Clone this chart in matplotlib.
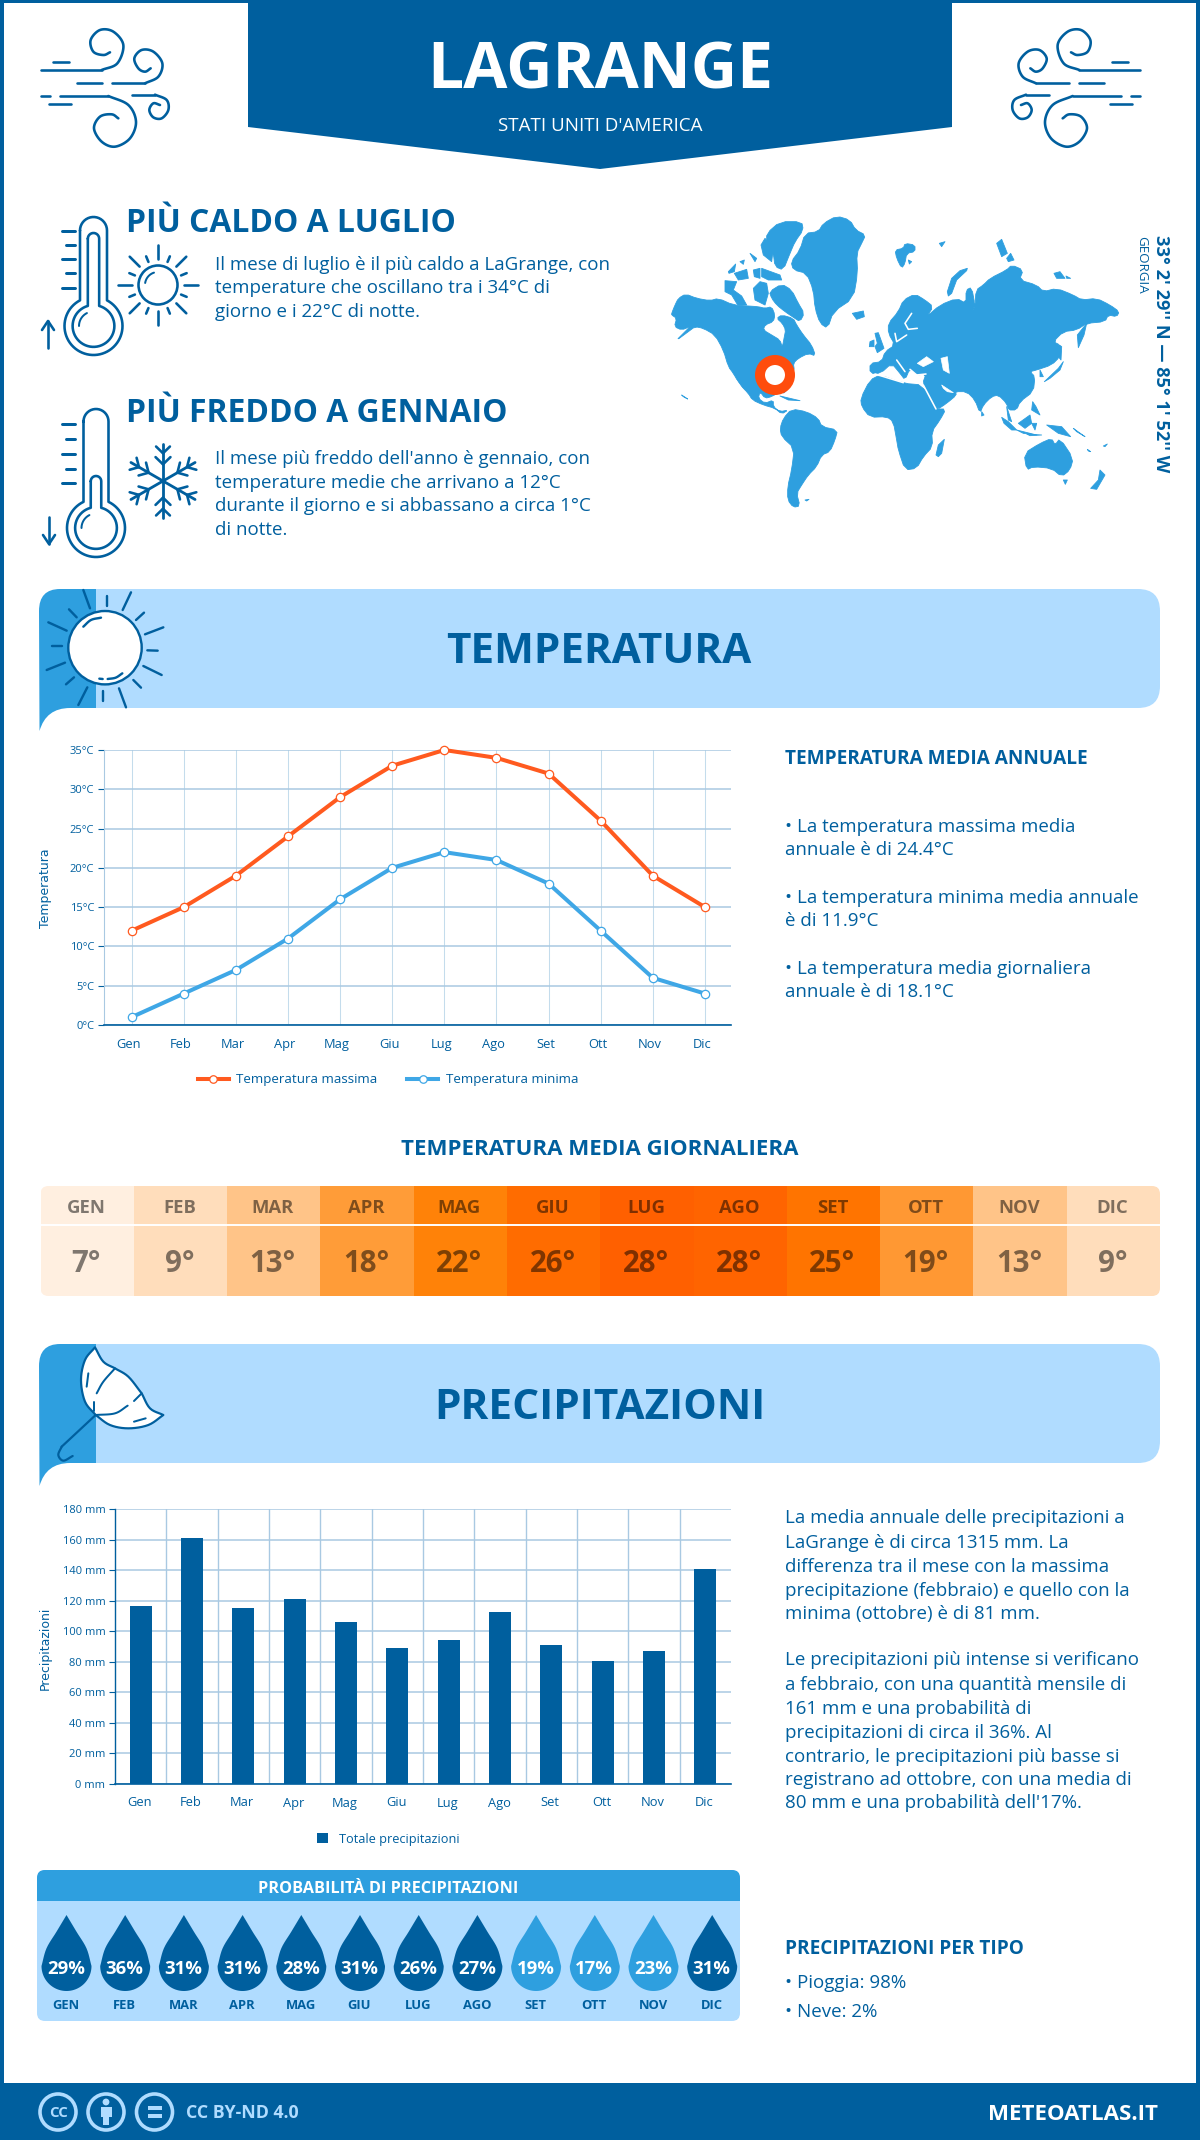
import numpy as np
import matplotlib
matplotlib.use("Agg")
import matplotlib.pyplot as plt
from matplotlib.patches import Polygon, Circle, Rectangle, FancyBboxPatch, PathPatch
from matplotlib.path import Path
from matplotlib.transforms import ScaledTranslation

plt.rcParams['font.family'] = ['Open Sans', 'DejaVu Sans']

# ---------- data ----------
MONTHS = ["Gen", "Feb", "Mar", "Apr", "Mag", "Giu", "Lug", "Ago", "Set", "Ott", "Nov", "Dic"]
TEMP_MAX = [12, 15, 19, 24, 29, 33, 35, 34, 32, 26, 19, 15]
TEMP_MIN = [1, 4, 7, 11, 16, 20, 22, 21, 18, 12, 6, 4]
TEMP_TICKS = [0, 5, 10, 15, 20, 25, 30, 35]
TEMP_DAILY = [7, 9, 13, 18, 22, 26, 28, 28, 25, 19, 13, 9]
TEMP_COLORS = ["#ffefe0", "#ffddbb", "#ffc488", "#ff9c38", "#ff8208", "#ff6c00",
               "#ff6000", "#ff6400", "#ff7400", "#ff9833", "#ffc488", "#ffddbb"]
PRECIP = [116.7, 161, 115.4, 121.3, 106.3, 89.2, 94.5, 112.8, 91.2, 80.7, 87.3, 141]
PRECIP_TICKS = [0, 20, 40, 60, 80, 100, 120, 140, 160, 180]
PROB = [29, 36, 31, 31, 28, 31, 26, 27, 19, 17, 23, 31]

DARK = "#005f9e"
MID = "#2e9fdf"
LIGHT = "#b0dcff"
ORANGE = "#ff4d0d"

W, H = 1200, 2140
fig = plt.figure(figsize=(W / 100, H / 100), dpi=100, facecolor="white")
P = fig.add_axes([0, 0, 1, 1])
P.set_xlim(0, W)
P.set_ylim(H, 0)
P.axis("off")


def T(x, y, s, px, weight="normal", color=DARK, ha="left", alpha=None):
    """y = optical centre of caps"""
    return P.text(x, y + 0.357 * px, s, fontsize=px * 0.72, fontweight=weight, color=color, ha=ha,
                  va="baseline", alpha=alpha, zorder=6)


def smooth(pts, n=14):
    pts = np.array(pts, float)
    p = np.vstack([2 * pts[0] - pts[1], pts, 2 * pts[-1] - pts[-2]])
    out = []
    for i in range(1, len(p) - 2):
        for t in np.linspace(0, 1, n, endpoint=False):
            a, b, c, d = p[i - 1], p[i], p[i + 1], p[i + 2]
            out.append(0.5 * (2 * b + (c - a) * t + (2 * a - 5 * b + 4 * c - d) * t ** 2 + (3 * b - a - 3 * c + d) * t ** 3))
    out.append(pts[-1])
    return np.array(out)


def stroke(pts, lw=2.6, color=DARK, z=5, cap="round"):
    pts = np.array(pts, float)
    P.plot(pts[:, 0], pts[:, 1], color=color, lw=lw * 0.72, solid_capstyle=cap, solid_joinstyle="round", zorder=z)


# ---------- frame / header ----------
P.add_patch(Rectangle((0, 0), 4, H, color=DARK, lw=0))
P.add_patch(Rectangle((W - 4, 0), 4, H, color=DARK, lw=0))
P.add_patch(Rectangle((0, 0), W, 3, color=DARK, lw=0))
P.add_patch(Polygon([(248, 0), (952, 0), (952, 127), (600, 169), (248, 127)], color=DARK, lw=0))
T(600, 66, "LAGRANGE", 64, "bold", "white", "center")
T(600, 124, "STATI UNITI D'AMERICA", 18.8, "normal", "white", "center")


def wind(fx):
    S = lambda l: [(fx(30 + x / 3), 20 + y / 3) for x, y in l]
    def line_curve(straight_to, rest):
        stroke(S(straight_to))
        stroke(smooth(S([straight_to[-1]] + rest)))
    line_curve([(32, 150), (215, 150)], [(262, 130), (280, 75), (250, 35), (210, 30), (182, 60), (190, 95), (220, 105), (240, 97)])
    stroke(S([(70, 125), (118, 125)]))
    stroke(S([(140, 190), (215, 190)]))
    line_curve([(247, 190), (345, 190)], [(385, 170), (397, 130), (370, 95), (335, 90), (313, 115), (325, 145), (345, 155), (362, 145)])
    stroke(S([(32, 228), (60, 228)]))
    line_curve([(90, 228), (235, 228)], [(295, 255), (318, 305), (300, 355), (255, 380), (215, 365), (192, 325), (210, 290), (245, 283), (265, 295)])
    line_curve([(307, 224), (375, 224)], [(410, 240), (415, 270), (395, 295), (370, 292), (358, 270), (370, 250), (390, 255)])
    stroke(S([(57, 253), (122, 253)]))


wind(lambda x: x)
wind(lambda x: 1181 - x)


def thermo(xl, xr, top, cx, cy, r, mercury_top, ticks, arrow):
    hw = (xr - xl) / 2
    a = np.arcsin(hw / r)
    ang = np.linspace(a, 2 * np.pi - a, 60)
    bulb = np.c_[cx + r * np.sin(ang), cy - r * np.cos(ang)]
    t = np.linspace(0, np.pi, 20)
    out = np.vstack([np.c_[cx - hw * np.cos(t), top + hw - hw * np.sin(t)], bulb, [(cx - hw, top + hw)]])
    stroke(out)
    hw2 = hw * 0.42
    r2 = r * 0.72
    a2 = np.arcsin(hw2 / r2)
    ang2 = np.linspace(a2, 2 * np.pi - a2, 50)
    bulb2 = np.c_[cx + r2 * np.sin(ang2), cy - r2 * np.cos(ang2)]
    t2 = np.linspace(0, np.pi, 14)
    inn = np.vstack([np.c_[cx - hw2 * np.cos(t2), mercury_top + hw2 - hw2 * np.sin(t2)], bulb2, [(cx - hw2, mercury_top + hw2)]])
    stroke(inn)
    ah = np.linspace(np.pi * 1.0, np.pi * 1.35, 12)
    stroke(np.c_[cx + r * 0.5 * np.cos(ah), cy + r * 0.5 * np.sin(ah)], lw=2)
    for i, ty in enumerate(ticks):
        stroke([(62 if i % 2 == 0 else 66, ty), (75, ty)], lw=3)
    stroke([(arrow[0], arrow[1]), (arrow[0], arrow[2])])
    d = np.sign(arrow[2] - arrow[1])
    stroke([(arrow[0] - 6, arrow[2] - d * 9), (arrow[0], arrow[2]), (arrow[0] + 6, arrow[2] - d * 9)])


thermo(80, 107, 217, 93.5, 326, 29, 233, [231, 245, 259, 273, 288], (48, 348, 321))
thermo(84, 109, 409, 96, 528, 29, 476, [424, 439, 454, 469, 483], (49, 517, 544))


def rays(cx, cy, r1, r2, r1b, r2b, n=16, lw=2.6):
    for i in range(n):
        a = 2 * np.pi * i / n
        a1, a2 = (r1, r2) if i % 2 == 0 else (r1b, r2b)
        stroke([(cx + a1 * np.cos(a), cy + a1 * np.sin(a)), (cx + a2 * np.cos(a), cy + a2 * np.sin(a))], lw=lw)


P.add_patch(Circle((158, 285), 19.5, fc="white", ec=DARK, lw=2.6 * 0.72, zorder=5))
ah = np.linspace(np.pi * 1.05, np.pi * 1.4, 12)
stroke(np.c_[158 + 13 * np.cos(ah), 285 + 13 * np.sin(ah)], lw=2)
rays(158, 285, 26, 40, 25, 31)


def flake(cx, cy, R):
    for k in range(6):
        a = np.pi / 2 + k * np.pi / 3
        u = np.array([np.cos(a), np.sin(a)])
        v = np.array([-u[1], u[0]])
        c = np.array([cx, cy])
        stroke([c, c + R * u], lw=2.8)
        for d, l in [(0.45, 0.28), (0.75, 0.26)]:
            base = c + R * d * u
            for s in (-1, 1):
                stroke([base, base + R * l * (0.7 * u + s * 0.72 * v)], lw=2.6)


flake(163, 481, 37)

T(126, 221, "PIÙ CALDO A LUGLIO", 31.9, "bold")
for y, s in zip([263, 286, 310], ["Il mese di luglio è il più caldo a LaGrange, con",
                                  "temperature che oscillano tra i 34°C di",
                                  "giorno e i 22°C di notte."]):
    T(215, y, s, 18.8)
T(126, 411, "PIÙ FREDDO A GENNAIO", 31.9, "bold")
for y, s in zip([457, 481, 504, 528], ["Il mese più freddo dell'anno è gennaio, con",
                                       "temperature medie che arrivano a 12°C",
                                       "durante il giorno e si abbassano a circa 1°C",
                                       "di notte."]):
    T(215, y, s, 18.8)

# ---------- world map (decorative outline shapes, traced in crop pixels) ----------
LAND_WEST = [
    # North America
    [(20, 310), (30, 285), (40, 265), (62, 252), (95, 265), (135, 272), (160, 265), (205, 285), (250, 288), (280, 290), (300, 295),
     (320, 290), (330, 315), (325, 335), (300, 345), (295, 360), (320, 375), (345, 390), (352, 412), (358, 380), (362, 360),
     (352, 340), (335, 325), (350, 315), (385, 325), (395, 345), (415, 375), (440, 405), (452, 438), (430, 430), (400, 445),
     (385, 460), (388, 480), (375, 520), (360, 550), (345, 545), (320, 560), (300, 565), (285, 545), (280, 565), (300, 580),
     (325, 570), (325, 590), (345, 605), (370, 600), (350, 612), (330, 595), (295, 585), (262, 570), (250, 550), (225, 525),
     (205, 490), (190, 470), (175, 420), (150, 375), (115, 355), (90, 350), (70, 365), (32, 393), (60, 365), (75, 350),
     (50, 360), (28, 350), (35, 325), (20, 315)],
    # arctic archipelago
    [(313, 245), (350, 222), (380, 240), (400, 280), (418, 310), (405, 335), (385, 322), (360, 305), (335, 285), (320, 265)],
    [(265, 235), (285, 215), (305, 220), (310, 250), (300, 285), (270, 270)],
    [(180, 212), (215, 215), (205, 240), (230, 258), (245, 285), (218, 285), (200, 255), (180, 245)],
    [(190, 185), (212, 162), (208, 185), (192, 190)], [(208, 190), (245, 178), (250, 205), (220, 210)],
    [(265, 180), (285, 175), (285, 205), (268, 200)], [(290, 175), (345, 195), (350, 210), (310, 210), (290, 200)],
    [(255, 130), (275, 145), (270, 155)], [(225, 155), (238, 150), (235, 163)],
    [(305, 70), (345, 35), (410, 35), (415, 60), (390, 95), (375, 130), (355, 180), (330, 170), (325, 130), (305, 100)],
    [(288, 105), (300, 85), (325, 115), (320, 155), (295, 135)],
    # Greenland, Iceland
    [(378, 155), (405, 120), (420, 70), (460, 65), (475, 40), (515, 18), (555, 30), (572, 60), (602, 75), (590, 100), (575, 130),
     (578, 190), (565, 265), (505, 305), (488, 355), (465, 340), (450, 295), (445, 240), (425, 190), (385, 180)],
    [(562, 310), (595, 303), (598, 320), (575, 328)],
    # Cuba etc.
    [(345, 558), (375, 565), (405, 572), (370, 570)], [(50, 555), (68, 567), (55, 560)],
    # South America
    [(345, 655), (355, 625), (380, 597), (425, 605), (460, 625), (470, 650), (518, 660), (510, 690), (495, 725), (470, 735),
     (455, 770), (430, 795), (410, 825), (395, 850), (405, 888), (385, 892), (368, 870), (368, 830), (380, 780), (388, 715), (350, 680)],
    [(420, 870), (432, 868), (425, 873)],
]
LAND_EAST = [
    [(105, 120), (130, 115), (135, 100), (165, 105), (165, 125), (140, 130), (135, 160), (125, 175), (110, 145)],
    [(145, 150), (155, 155), (148, 162)], [(238, 100), (255, 95), (245, 110)],
    [(262, 245), (275, 205), (300, 182), (322, 175), (320, 182), (290, 210), (275, 250), (265, 258)],
    [(410, 100), (425, 88), (442, 130), (425, 140)], [(440, 145), (452, 130), (462, 150), (445, 155)],
    [(582, 190), (600, 185), (615, 205), (590, 205)], [(618, 198), (632, 205), (620, 205)],
    # UK & Ireland
    [(45, 370), (55, 368), (72, 415), (52, 428), (45, 410), (52, 400)], [(30, 395), (42, 390), (42, 410), (28, 410)],
    # Eurasia
    [(30, 460), (65, 455), (75, 425), (105, 405), (85, 370), (85, 340), (115, 305), (130, 270), (165, 252), (195, 270), (220, 290),
     (200, 320), (240, 285), (290, 265), (318, 280), (318, 240), (335, 232), (345, 285), (335, 305), (345, 290), (348, 240), (370, 225),
     (390, 205), (440, 180), (455, 165), (490, 180), (478, 210), (530, 225), (550, 245), (590, 235), (640, 255), (665, 270), (710, 265),
     (750, 285), (778, 305), (770, 320), (745, 315), (735, 335), (680, 340), (650, 360), (610, 365), (580, 395), (600, 405), (600, 440),
     (575, 465), (530, 480), (510, 485), (525, 500), (520, 545), (480, 575), (470, 600), (445, 600), (440, 580), (415, 555), (395, 560),
     (370, 585), (360, 610), (345, 570), (320, 545), (285, 545), (290, 555), (260, 580), (230, 600), (205, 550), (188, 520), (198, 492),
     (170, 495), (150, 475), (135, 510), (120, 490), (95, 460), (62, 490), (30, 490)],
    # Africa
    [(2, 565), (30, 510), (60, 495), (130, 520), (190, 525), (228, 597), (258, 597), (240, 630), (215, 665), (218, 710), (190, 740),
     (170, 775), (135, 780), (115, 720), (110, 690), (100, 635), (80, 620), (30, 622), (5, 590)],
    [(228, 735), (235, 705), (253, 688), (245, 730), (235, 740)],
    [(365, 605), (372, 615), (365, 618)],
    [(652, 375), (680, 340), (672, 375), (655, 413)],
    [(553, 515), (595, 475), (610, 455), (600, 480), (570, 505)], [(598, 405), (605, 410), (603, 450), (595, 440)],
    [(540, 480), (550, 500), (540, 500)],
    [(425, 622), (445, 635), (470, 660), (455, 660), (432, 640)], [(470, 660), (530, 675), (490, 670)],
    [(475, 640), (510, 615), (515, 640), (495, 655)], [(515, 640), (530, 640), (525, 660)],
    [(518, 575), (528, 590), (540, 615), (515, 600)], [(560, 645), (605, 650), (632, 680), (595, 670)],
    [(440, 590), (455, 635), (445, 630)], [(500, 672), (545, 675), (510, 677)],
    [(640, 655), (675, 680), (650, 665)], [(682, 718), (692, 725), (685, 723)], [(730, 708), (742, 702), (735, 710)],
    # Oceania
    [(492, 730), (540, 700), (575, 685), (585, 705), (600, 685), (640, 745), (630, 780), (605, 800), (575, 775), (520, 770), (500, 780)],
    [(610, 810), (622, 810), (616, 823)], [(692, 835), (715, 810), (720, 780), (735, 795), (710, 838)],
]
SEA_EAST = [
    [(172, 460), (200, 440), (220, 455), (190, 470)],
    [(243, 445), (262, 440), (268, 490), (250, 480)],
    [(245, 525), (280, 548), (262, 545), (250, 535)],
]
SEA_LINES_EAST = [
    [(155, 310), (135, 340), (145, 358), (172, 355)], [(140, 375), (110, 395), (105, 370)],
    [(110, 450), (135, 485)], [(190, 525), (228, 597)], [(45, 492), (130, 518)], [(150, 478), (170, 495), (198, 492)],
]
SEA_LINES_WEST = [[(213, 512), (240, 550)]]
west = lambda l: [(665 + x / 3, 210 + y / 3) for x, y in l]
east = lambda l: [(860 + x / 3, 210 + y / 3) for x, y in l]


def soften(pts):
    """One corner-cutting pass so that traced coasts lose their sharp corners."""
    pts = np.array(pts, float)
    if len(pts) < 9:
        return pts
    nxt = np.roll(pts, -1, axis=0)
    q = 0.75 * pts + 0.25 * nxt
    r = 0.25 * pts + 0.75 * nxt
    return np.column_stack([q, r]).reshape(-1, 2)


for poly in LAND_WEST:
    P.add_patch(Polygon(soften(west(poly)), closed=True, fc=MID, ec=MID, lw=0.6, zorder=2, joinstyle="round"))
for poly in LAND_EAST:
    P.add_patch(Polygon(soften(east(poly)), closed=True, fc=MID, ec=MID, lw=0.6, zorder=2, joinstyle="round"))
for poly in SEA_EAST:
    P.add_patch(Polygon(east(poly), closed=True, fc="white", ec="white", lw=0.5, zorder=3, joinstyle="round"))
for l in SEA_LINES_EAST:
    stroke(east(l), lw=1.6, color="white", z=3)
for l in SEA_LINES_WEST:
    stroke(west(l), lw=1.6, color="white", z=3)
P.add_patch(Circle((775, 375), 15, fc="white", ec=ORANGE, lw=10 * 0.72, zorder=4))
P.text(1161.5, 354, "33° 2' 29'' N — 85° 1' 52'' W", fontsize=18.2 * 0.72, fontweight="bold", color=DARK,
       ha="center", va="center", rotation=-90, zorder=6)
P.text(1142, 264.5, "GEORGIA", fontsize=13.4 * 0.72, color=DARK, ha="center", va="center", rotation=-90, zorder=6)


# ---------- section banners ----------
def banner(y0, y1, tail):
    P.add_patch(FancyBboxPatch((70, y0), 1090, y1 - y0, boxstyle="round,pad=0,rounding_size=22", fc=LIGHT, ec="none", zorder=1))
    v = [(96, y0), (60, y0), (39, y0), (39, y0 + 22), (39.5, tail), (46, y1), (70, y1), (96, y1), (96, y0)]
    c = [Path.MOVETO, Path.LINETO, Path.CURVE3, Path.CURVE3, Path.LINETO, Path.CURVE3, Path.CURVE3, Path.LINETO, Path.CLOSEPOLY]
    P.add_patch(PathPatch(Path(v, c), fc=MID, ec="none", zorder=1.5))


banner(589, 708, 731)
T(599, 648, "TEMPERATURA", 42.3, "bold", ha="center")
banner(1344, 1463, 1486)
T(600, 1404, "PRECIPITAZIONI", 42.4, "bold", ha="center")

# banner sun
SX = lambda l: [(35 + x / 3, 585 + y / 3) for x, y in l]
P.add_patch(Circle((105, 647.7), 36.7, fc="white", ec=DARK, lw=2.4 * 0.72, zorder=5))
stroke(smooth(SX([(145, 125), (168, 105), (198, 98)])), lw=2.4)
stroke(smooth(SX([(218, 282), (242, 278), (262, 265)])), lw=2.4)
stroke(SX([(193, 281), (203, 282)]), lw=2.4)
for seg in [[(145, 15), (165, 70)], [(215, 32), (215, 62)], [(288, 22), (263, 75)], [(327, 83), (303, 105)], [(385, 127), (330, 148)],
            [(368, 197), (337, 196)], [(380, 270), (325, 243)], [(318, 308), (295, 285)], [(273, 367), (252, 310)], [(203, 349), (203, 318)],
            [(130, 360), (157, 307)], [(93, 298), (117, 277)], [(35, 255), (90, 233)], [(50, 184), (82, 184)], [(40, 112), (95, 137)], [(102, 73), (125, 97)]]:
    stroke(SX(seg), lw=2.4)

# umbrella
U = lambda l: [(35 + x / 3, 1340 + y / 3) for x, y in l]
edge = np.vstack([smooth(U([(180, 22), (205, 65), (240, 85)]), 6), smooth(U([(240, 85), (280, 110), (320, 160)]), 6),
                  smooth(U([(320, 160), (345, 205), (385, 225)]), 6),
                  smooth(U([(385, 225), (340, 255), (280, 265), (225, 255), (182, 225)]), 6),
                  smooth(U([(182, 225), (150, 185), (138, 120), (150, 60), (180, 22)]), 6)])
P.add_patch(Polygon(edge, closed=True, fc="white", ec=DARK, lw=2.2 * 0.72, zorder=5, joinstyle="round"))
stroke(smooth(U([(240, 85), (205, 125), (185, 160)])), lw=2)
stroke(U([(178, 185), (178, 212)]), lw=2)
stroke(U([(320, 160), (297, 183)]), lw=2)
stroke(smooth(U([(278, 197), (240, 220), (182, 225)])), lw=2)
stroke(U([(160, 100), (155, 140)]), lw=2)
stroke(U([(297, 245), (332, 235)]), lw=2)
stroke(U([(182, 225), (80, 320)]), lw=2.2)
stroke(smooth(U([(80, 320), (70, 345), (85, 362), (113, 348)])), lw=2.2)


# ---------- temperature chart ----------
def pxaxes(x0, y0, x1, y1):
    ax = fig.add_axes([x0 / W, 1 - y1 / H, (x1 - x0) / W, (y1 - y0) / H])
    ax.patch.set_alpha(0)
    return ax


def shift_labels(ax, dx):
    off = ScaledTranslation(dx / 100, 0, fig.dpi_scale_trans)
    for lab in ax.get_xticklabels():
        lab.set_transform(lab.get_transform() + off)


ax = pxaxes(104, 750, 731, 1025)
x = np.arange(12)
ax.plot(x, TEMP_MAX, color="#ff5a1f", lw=2.9, marker="o", ms=6, mfc="white", mec="#ff5a1f", mew=0.9, label="Temperatura massima", zorder=4, clip_on=False)
ax.plot(x, TEMP_MIN, color="#3fa7e6", lw=2.9, marker="o", ms=6, mfc="white", mec="#3fa7e6", mew=0.9, label="Temperatura minima", zorder=4, clip_on=False)
ax.set_xlim(-0.53, 11.5)
ax.set_ylim(0, 35)
ax.set_yticks(TEMP_TICKS, [f"{v}°C" for v in TEMP_TICKS])
ax.set_xticks(x, MONTHS)
ax.grid(axis="y", color="#a9c9e2", lw=1.1)
ax.grid(axis="x", color="#c4dcec", lw=0.75)
ax.set_axisbelow(True)
for s in ("top", "right"):
    ax.spines[s].set_visible(False)
ax.spines["left"].set_color("#a9c9e2")
ax.spines["left"].set_linewidth(0.8)
ax.spines["bottom"].set_color(DARK)
ax.spines["bottom"].set_linewidth(1.2)
ax.tick_params(axis="y", length=4, width=0.8, color=DARK, labelsize=8, labelcolor=DARK, pad=3)
ax.tick_params(axis="x", length=0, labelsize=9.3, labelcolor=DARK, pad=9)
shift_labels(ax, -3)
P.text(46, 888, "Temperatura", rotation=90, ha="center", va="center", fontsize=9, color=DARK, family="DejaVu Sans", zorder=6)
ax.legend(loc="center", bbox_to_anchor=(388 / W, 1 - 1080 / H), bbox_transform=fig.transFigure, ncol=2, frameon=False, fontsize=9.6,
          labelcolor=DARK, handlelength=2.35, handletextpad=0.55, columnspacing=2.2, markerscale=0.9)

T(785, 757, "TEMPERATURA MEDIA ANNUALE", 19, "bold")
for y, s in zip([825, 848, 896, 919, 967, 990],
                ["• La temperatura massima media", "annuale è di 24.4°C", "• La temperatura minima media annuale",
                 "è di 11.9°C", "• La temperatura media giornaliera", "annuale è di 18.1°C"]):
    T(785, y, s, 18.8)

# ---------- heat strip ----------
T(600, 1147, "TEMPERATURA MEDIA GIORNALIERA", 22.3, "bold", ha="center")
clip = FancyBboxPatch((40.5, 1186), 1119.5, 110, boxstyle="round,pad=0,rounding_size=8", fc="none", ec="none", transform=P.transData)
P.add_patch(clip)
cw = 1119.5 / 12
for i, (m, v, c) in enumerate(zip(MONTHS, TEMP_DAILY, TEMP_COLORS)):
    r = Rectangle((40.5 + i * cw, 1186), cw + 0.5, 110, fc=c, ec="none", zorder=1)
    P.add_patch(r)
    r.set_clip_path(clip)
    T(40.5 + (i + 0.5) * cw - 1, 1206, m.upper(), 18.5, "bold", "black", "center", alpha=0.5)
    T(40.5 + (i + 0.5) * cw - 1, 1261, f"{v}°", 29.5, "bold", "black", "center", alpha=0.5)
P.plot([40.5, 1160], [1225, 1225], color="white", lw=1.4, zorder=2)

# ---------- precipitation chart ----------
ax2 = pxaxes(115, 1509, 731, 1784)
ax2.bar(x, PRECIP, width=0.435, color=DARK, label="Totale precipitazioni", zorder=3)
ax2.set_xlim(-0.5, 11.5)
ax2.set_ylim(0, 180)
ax2.set_yticks(PRECIP_TICKS, [f"{v} mm" for v in PRECIP_TICKS])
ax2.set_xticks(x, MONTHS)
ax2.set_xticks(np.arange(0.5, 11), minor=True)
ax2.grid(axis="y", color="#a9c9e2", lw=1.1)
ax2.grid(axis="x", which="minor", color="#a9c9e2", lw=1.0)
ax2.set_axisbelow(True)
for s in ("top", "right"):
    ax2.spines[s].set_visible(False)
ax2.spines["left"].set_color(DARK)
ax2.spines["left"].set_linewidth(1.0)
ax2.spines["bottom"].set_color(DARK)
ax2.spines["bottom"].set_linewidth(1.2)
ax2.tick_params(axis="y", length=4, width=0.8, color=DARK, labelsize=8, labelcolor=DARK, pad=3)
ax2.tick_params(axis="x", which="major", length=0, labelsize=9.3, labelcolor=DARK, pad=9)
ax2.tick_params(axis="x", which="minor", length=0)
shift_labels(ax2, -1)
P.text(45.5, 1648, "Precipitazioni", rotation=90, ha="center", va="center", fontsize=9, color=DARK, family="DejaVu Sans", zorder=6)
ax2.legend(loc="center", bbox_to_anchor=(388 / W, 1 - 1839 / H), bbox_transform=fig.transFigure, frameon=False, fontsize=9.2,
           labelcolor=DARK, handlelength=0.9, handleheight=0.9, handletextpad=0.8)

for y, s in zip([1516, 1541, 1565, 1589, 1612],
                ["La media annuale delle precipitazioni a", "LaGrange è di circa 1315 mm. La",
                 "differenza tra il mese con la massima", "precipitazione (febbraio) e quello con la",
                 "minima (ottobre) è di 81 mm."]):
    T(785, y, s, 18.8)
for y, s in zip([1658, 1683, 1707, 1731, 1755, 1778, 1801],
                ["Le precipitazioni più intense si verificano", "a febbraio, con una quantità mensile di",
                 "161 mm e una probabilità di", "precipitazioni di circa il 36%. Al",
                 "contrario, le precipitazioni più basse si", "registrano ad ottobre, con una media di",
                 "80 mm e una probabilità dell'17%."]):
    T(785, y, s, 18.8)

# ---------- probability panel ----------
P.add_patch(FancyBboxPatch((37, 1870), 703, 151, boxstyle="round,pad=0,rounding_size=8", fc=LIGHT, ec="none", zorder=1))
hdr = FancyBboxPatch((37, 1870), 703, 151, boxstyle="round,pad=0,rounding_size=8", fc=MID, ec="none", zorder=1.1)
P.add_patch(hdr)
hdr.set_clip_path(Rectangle((37, 1870), 703, 31, transform=P.transData))
T(388, 1887, "PROBABILITÀ DI PRECIPITAZIONI", 16.2, "bold", "white", "center")


def drop(cx, color):
    top, cy, r = 1915, 1966, 25
    th = np.linspace(np.pi, 2 * np.pi, 50)
    arc = np.c_[cx + r * np.cos(th), cy - r * np.sin(th)]
    left = np.array([(cx, top), (cx - 10, top + 16.7), (cx - 20, top + 33.3), (cx - 25, cy)], float)
    right = left[::-1].copy()
    right[:, 0] = 2 * cx - right[:, 0]
    v = np.vstack([smooth(left, 6), arc, smooth(right, 6)])
    P.add_patch(Polygon(v, closed=True, fc=color, ec="none", zorder=2))


for i, (m, p) in enumerate(zip(MONTHS, PROB)):
    cx = 66.5 + i * 58.7
    drop(cx, DARK if p >= 26 else MID)
    T(cx - 0.5, 1967, f"{p}%", 18.5, "bold", "white", "center")
    T(cx - 0.5, 2004, m.upper(), 13, "bold", DARK, "center")

T(785, 1947, "PRECIPITAZIONI PER TIPO", 19, "bold")
T(785, 1981, "• Pioggia: 98%", 18.8)
T(785, 2010, "• Neve: 2%", 18.8)

# ---------- footer ----------
P.add_patch(Rectangle((0, 2083), W, 57, color=DARK, lw=0, zorder=3))
for cx in (58, 106, 154.5):
    P.add_patch(Circle((cx, 2112), 18, fc="none", ec=LIGHT, lw=3.6 * 0.72, zorder=5))
T(58, 2112, "CC", 15, "bold", LIGHT, "center")
P.add_patch(Circle((106, 2102), 3.4, fc=LIGHT, ec="none", zorder=5))
P.add_patch(Rectangle((100.5, 2107), 11, 10, fc=LIGHT, ec="none", zorder=5))
P.add_patch(Rectangle((103, 2116), 6, 9, fc=LIGHT, ec="none", zorder=5))
P.add_patch(Rectangle((147.5, 2105.5), 14, 4.4, fc=LIGHT, ec="none", zorder=5))
P.add_patch(Rectangle((147.5, 2113.5), 14, 4.4, fc=LIGHT, ec="none", zorder=5))
T(186, 2112, "CC BY-ND 4.0", 17.7, "bold", LIGHT)
T(1158, 2112, "METEOATLAS.IT", 22.3, "bold", "white", "right")

fig.savefig("out.png", dpi=100, facecolor="white")
